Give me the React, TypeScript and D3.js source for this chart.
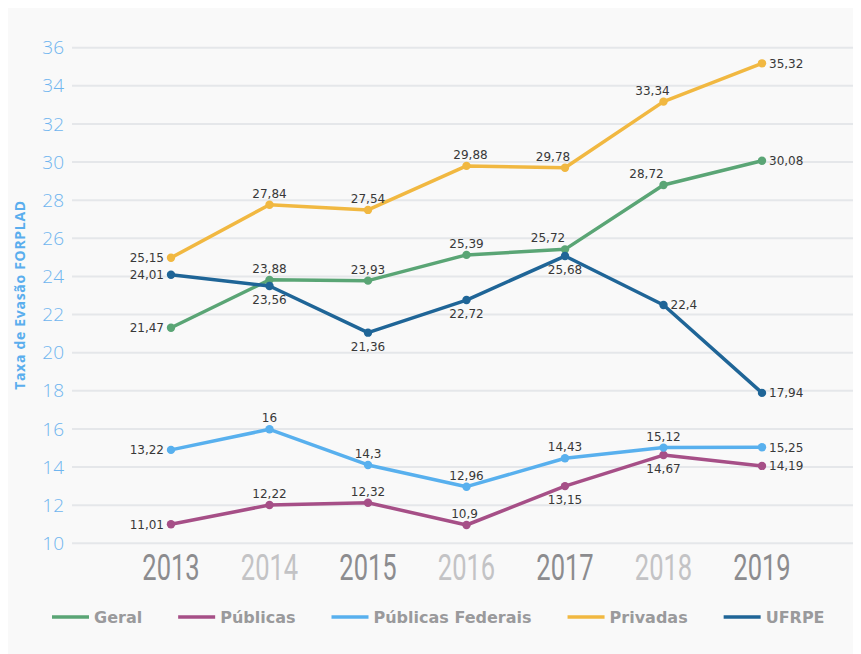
import React from "react";
import * as d3 from "d3";

const years = ["2013", "2014", "2015", "2016", "2017", "2018", "2019"];
const yTicks = [10, 12, 14, 16, 18, 20, 22, 24, 26, 28, 30, 32, 34, 36];

// plotted values (as drawn) and their printed labels
const geral = [21.31, 23.82, 23.78, 25.13, 25.42, 28.8, 30.07];
const geralLabels = ["21,47", "23,88", "23,93", "25,39", "25,72", "28,72", "30,08"];
const publicas = [11.0, 12.01, 12.13, 10.96, 13.0, 14.63, 14.06];
const publicasLabels = ["11,01", "12,22", "12,32", "10,9", "13,15", "14,67", "14,19"];
const federais = [14.9, 15.98, 14.11, 12.97, 14.46, 15.02, 15.04];
const federaisLabels = ["13,22", "16", "14,3", "12,96", "14,43", "15,12", "15,25"];
const privadas = [24.98, 27.76, 27.49, 29.8, 29.7, 33.17, 35.18];
const privadasLabels = ["25,15", "27,84", "27,54", "29,88", "29,78", "33,34", "35,32"];
const ufrpe = [24.09, 23.5, 21.05, 22.76, 25.07, 22.5, 17.89];
const ufrpeLabels = ["24,01", "23,56", "21,36", "22,72", "25,68", "22,4", "17,94"];

const seriesNames = ["Geral", "Públicas", "Públicas Federais", "Privadas", "UFRPE"];
const seriesValues = [geral, publicas, federais, privadas, ufrpe];
const seriesLabels = [geralLabels, publicasLabels, federaisLabels, privadasLabels, ufrpeLabels];
const seriesColors = ["#5aa575", "#a64f87", "#58b0ee", "#f1b841", "#1f6597"];

// label placement: L=left, A=above, B=below, R=right
const placements = [
  ["L", "A", "A", "A", "A", "A", "R"],
  ["L", "A", "A", "A", "B", "B", "R"],
  ["L", "A", "A", "A", "A", "A", "R"],
  ["L", "A", "A", "A", "A", "A", "R"],
  ["L", "B", "B", "B", "B", "R", "R"],
];
const placementDx = [
  [0, 0, 0, 0, -17, -17, 0],
  [0, 0, 0, -2, 0, 0, 0],
  [0, 0, 0, 0, 0, 0, 0],
  [0, 0, 0, 4, -12, -11, 0],
  [0, 0, 0, 0, 0, 0, 0],
];

const W = 861;
const H = 654;

function measure(text: string, font: string): number {
  if (typeof document === "undefined") return text.length * 9;
  const c = document.createElement("canvas");
  const ctx = c.getContext("2d");
  if (!ctx) return text.length * 9;
  ctx.font = font;
  return ctx.measureText(text).width;
}

export default function App() {
  const x = d3.scalePoint<string>().domain(years).range([171, 762]);
  const y = d3.scaleLinear().domain([10, 36]).range([543.3, 47.7]);

  const line = d3
    .line<number>()
    .x((_, i) => x(years[i]) as number)
    .y((d) => y(d));

  // legend flow
  const legendFont = "bold 16px 'DejaVu Sans'";
  let lx = 52;
  const legendItems = seriesNames.map((name, i) => {
    const item = { name, color: seriesColors[i], x: lx };
    lx += 37 + 5 + measure(name, legendFont) + 36;
    return item;
  });

  return (
    <svg width={W - 8} height={H - 8} style={{ display: "block" }}>
      <g transform="translate(-8,-8)">
        <rect x={8} y={8} width={W - 8} height={H - 8} fill="#f9f9f9" />
        {yTicks.map((t) => (
          <g key={t}>
            <line x1={72} x2={858} y1={y(t)} y2={y(t)} stroke="#e5e7ea" strokeWidth={2} />
            <text
              x={64}
              y={y(t)}
              dy="0.35em"
              textAnchor="end"
              fontFamily="'Open Sans'"
              fontWeight={300}
              fontSize={19}
              fill="#6fb5ef"
            >
              {t}
            </text>
          </g>
        ))}
        <text
          transform={`translate(25,295) rotate(-90)`}
          textAnchor="middle"
          fontFamily="'Open Sans'"
          fontWeight={700}
          fontSize={14}
          letterSpacing={0.7}
          fill="#5aaeee"
        >
          Taxa de Evasão FORPLAD
        </text>
        {years.map((yr, i) => (
          <text
            key={yr}
            transform={`translate(${x(yr)},580) scale(0.69,1)`}
            textAnchor="middle"
            fontFamily="Roboto"
            fontWeight={400}
            fontSize={37}
            fill={i % 2 === 0 ? "#8c8c8f" : "#c3c3c5"}
          >
            {yr}
          </text>
        ))}
        {seriesValues.map((vals, s) => (
          <g key={seriesNames[s]}>
            <path d={line(vals) || ""} fill="none" stroke={seriesColors[s]} strokeWidth={3.5} strokeLinejoin="round" />
            {vals.map((v, i) => (
              <circle key={i} cx={x(years[i])} cy={y(v)} r={4.2} fill={seriesColors[s]} />
            ))}
          </g>
        ))}
        {seriesValues.map((vals, s) => (
          <g key={"lab" + s}>
            {vals.map((v, i) => {
              const px = (x(years[i]) as number) + placementDx[s][i];
              const py = y(v);
              const p = placements[s][i];
              let tx = px;
              let ty = py;
              let anchor: "start" | "middle" | "end" = "middle";
              if (p === "A") {
                ty = py - 7;
              } else if (p === "B") {
                ty = py + 18;
              } else if (p === "L") {
                tx = px - 7;
                ty = py + 4.4;
                anchor = "end";
              } else {
                tx = px + 7;
                ty = py + 4.4;
                anchor = "start";
              }
              return (
                <text
                  key={i}
                  x={tx}
                  y={ty}
                  textAnchor={anchor}
                  fontFamily="'DejaVu Sans'"
                  fontSize={12}
                  fill="#383838"
                >
                  {seriesLabels[s][i]}
                </text>
              );
            })}
          </g>
        ))}
        {legendItems.map((it) => (
          <g key={it.name}>
            <line x1={it.x} x2={it.x + 37} y1={617} y2={617} stroke={it.color} strokeWidth={3.5} />
            <text
              x={it.x + 42}
              y={617}
              dy="0.36em"
              fontFamily="'DejaVu Sans'"
              fontWeight={700}
              fontSize={16}
              fill="#9a9a9c"
            >
              {it.name}
            </text>
          </g>
        ))}
      </g>
    </svg>
  );
}
